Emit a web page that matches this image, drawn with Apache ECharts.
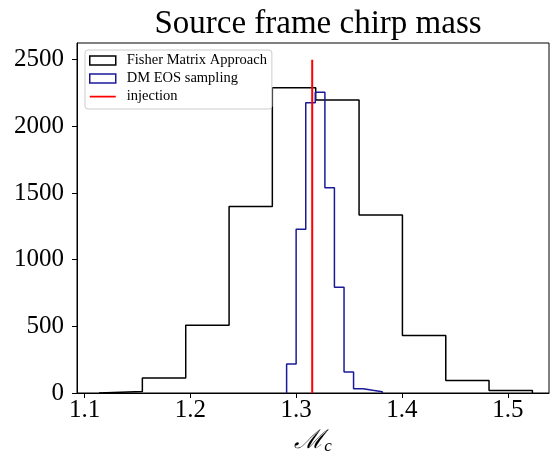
<!DOCTYPE html>
<html>
<head>
<meta charset="utf-8">
<script src="https://cdn.jsdelivr.net/npm/echarts@6/dist/echarts.min.js"></script>
<style>
  html, body { margin: 0; padding: 0; background: #fff; }
  #chart { width: 551px; height: 458px; }
</style>
</head>
<body>
<div id="chart"></div>
<script>
// Histogram bin edges and counts of the source-frame chirp mass posterior
const fisherEdges = [1.1135, 1.1545, 1.1955, 1.2365, 1.2774, 1.3184, 1.3594, 1.4004, 1.4414, 1.4823, 1.5233];
const fisherCounts = [12, 112, 509, 1398, 2289, 2197, 1335, 431, 94, 18];

const dmEdges = [1.2909, 1.2999, 1.3090, 1.3180, 1.3271, 1.3361, 1.3452, 1.3542, 1.3633, 1.3723, 1.3814];
const dmCounts = [217, 1228, 2177, 2255, 1540, 794, 157, 32, 20, 10];

// Injected value and the height of its marker line
const injectionValue = 1.3151;
const injectionTop = 2500;

const xTicks = [1.1, 1.2, 1.3, 1.4, 1.5];
const yTicks = [0, 500, 1000, 1500, 2000, 2500];

const seriesNames = ['Fisher Matrix Approach', 'DM EOS sampling', 'injection'];

// Turn edges + counts into the outline of a step histogram
function stepOutline(edges, counts) {
  const pts = [[edges[0], 0]];
  for (let i = 0; i < counts.length; i++) pts.push([edges[i], counts[i]]);
  pts.push([edges[edges.length - 1], 0]);
  return pts;
}

const serif = '"Liberation Serif", "DejaVu Serif", serif';
const blue = '#1a1a99';

// Legend glyph for the injection line: a thin bar centred in the icon box
// (the two tiny corner triangles only fix the path's bounding box)
const lineIcon = 'path://M0,0L0.001,0L0,0.001Z M0,3.8H26V5.4H0Z M26,9L25.999,9L26,8.999Z';

const chart = echarts.init(document.getElementById('chart'), null, { renderer: 'canvas' });

chart.setOption({
  animation: false,
  backgroundColor: '#fff',
  title: {
    text: 'Source frame chirp mass',
    left: 313,
    top: 3,
    textAlign: 'center',
    textStyle: { fontFamily: serif, fontSize: 33, fontWeight: 'normal', color: '#000' }
  },
  grid: {
    left: 77, right: 2, top: 43, bottom: 65,
    containLabel: false,
    outerBoundsMode: 'none',
    show: true, borderColor: '#000', borderWidth: 1, backgroundColor: 'transparent'
  },
  legend: {
    orient: 'vertical',
    left: 85, top: 50,
    padding: [3, 5, 5, 4],
    itemWidth: 26, itemHeight: 9, itemGap: 3,
    backgroundColor: 'rgba(255,255,255,0.8)',
    borderColor: '#cccccc', borderWidth: 1, borderRadius: 3,
    textStyle: { fontFamily: serif, fontSize: 14.5, color: '#000', padding: [0, 0, 0, 6], lineHeight: 15 },
    data: [
      { name: seriesNames[0], icon: 'rect', itemStyle: { color: '#fff', borderColor: '#000', borderWidth: 1.5 } },
      { name: seriesNames[1], icon: 'rect', itemStyle: { color: '#fff', borderColor: blue, borderWidth: 1.5 } },
      { name: seriesNames[2], icon: lineIcon, itemStyle: { color: '#ff0000', borderWidth: 0 } }
    ]
  },
  xAxis: {
    type: 'value',
    min: 1.0927, max: 1.539,
    name: '{m|\u2133}{s|c}',
    nameLocation: 'middle',
    nameGap: 33,
    nameTextStyle: {
      rich: {
        m: { fontFamily: '"DejaVu Serif", serif', fontSize: 26, color: '#000', fontStyle: 'italic' },
        s: { fontFamily: serif, fontSize: 17, color: '#000', fontStyle: 'italic', padding: [12, 0, 0, 0] }
      }
    },
    axisLine: { show: true, onZero: false, lineStyle: { color: '#000', width: 1 } },
    axisTick: { show: true, inside: false, length: 5, customValues: xTicks, lineStyle: { color: '#000' } },
    axisLabel: {
      customValues: xTicks, margin: 5,
      fontFamily: serif, fontSize: 25, color: '#000',
      formatter: v => v.toFixed(1)
    },
    splitLine: { show: false }
  },
  yAxis: {
    type: 'value',
    min: 0, max: 2625,
    axisLine: { show: true, lineStyle: { color: '#000', width: 1 } },
    axisTick: { show: true, inside: false, length: 5, customValues: yTicks, lineStyle: { color: '#000' } },
    axisLabel: {
      customValues: yTicks, margin: 13,
      fontFamily: serif, fontSize: 25, color: '#000',
      formatter: v => String(v)
    },
    splitLine: { show: false }
  },
  series: [
    {
      name: seriesNames[0], type: 'line', step: 'end',
      data: stepOutline(fisherEdges, fisherCounts),
      symbol: 'none', color: '#000',
      lineStyle: { color: '#000', width: 1.5 }, z: 2
    },
    {
      name: seriesNames[1], type: 'line', step: 'end',
      data: stepOutline(dmEdges, dmCounts),
      symbol: 'none', color: blue,
      lineStyle: { color: blue, width: 1.5 }, z: 3
    },
    {
      name: seriesNames[2], type: 'line',
      data: [[injectionValue, 0], [injectionValue, injectionTop]],
      symbol: 'none', color: '#ff0000',
      lineStyle: { color: '#ff0000', width: 2 }, z: 4
    }
  ]
});
</script>
</body>
</html>
